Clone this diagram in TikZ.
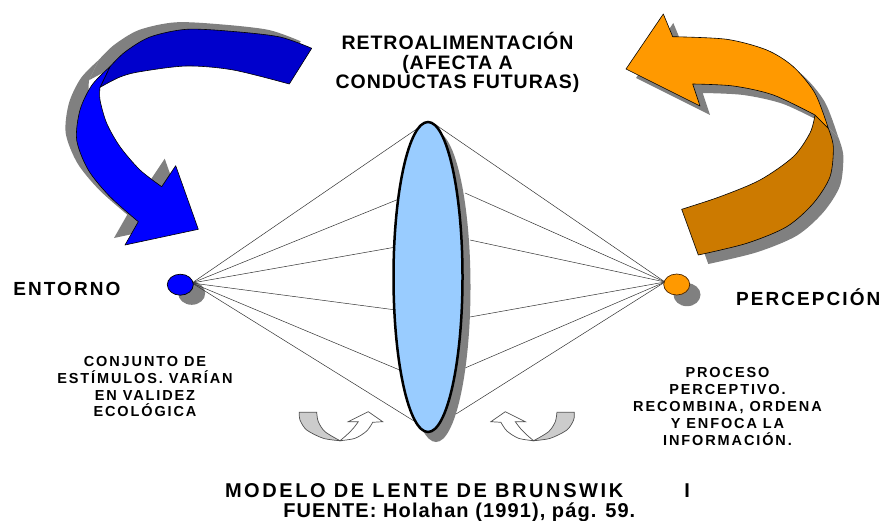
\documentclass[tikz,border=0pt]{standalone}
\usepackage{fontspec}
\setmainfont{Liberation Sans}
\newfontfamily\ftitle[LetterSpace=5]{Liberation Sans}
\newfontfamily\fhead[LetterSpace=11]{Liberation Sans}
\newfontfamily\fsmall[LetterSpace=13]{Liberation Sans}
\newfontfamily\fcapa[LetterSpace=13]{Liberation Sans}
\newfontfamily\fcapb[LetterSpace=5.5]{Liberation Sans}
\usetikzlibrary{shapes.geometric}
\definecolor{bluedark}{HTML}{0000CC}
\definecolor{bluebright}{HTML}{0000FF}
\definecolor{orangebright}{HTML}{FF9900}
\definecolor{orangedark}{HTML}{CC7A00}
\definecolor{lensblue}{HTML}{99CCFF}
\definecolor{shadowgray}{HTML}{808080}
\definecolor{smallgrey}{HTML}{CCCCCC}
\definecolor{smallline}{HTML}{505050}
\definecolor{raycol}{HTML}{333333}
\newcommand\blueA[1]{\path[#1] plot[smooth] coordinates {(311.7,48.3) (280,37) (233.3,31.5) (186.7,29.3) (150,37) (125,52) (110,66.7)} -- plot[smooth] coordinates {(100,87.3) (120,77) (140,71.7) (186.7,66) (233.3,70) (289.3,84)} -- cycle;}
\newcommand\blueB[1]{\path[#1] plot[smooth] coordinates {(110,66.7) (92,85) (80,110) (76.7,140) (88.3,170) (110,196.7) (138.3,221.7)} -- (125,245) -- (198.3,229.3) -- (175.7,165.7) -- plot[smooth] coordinates {(161.7,186.7) (140,170) (120,146.7) (106.7,123.3) (100,100) (100,87.3)} -- cycle;}
\newcommand\orangeA[1]{\path[#1] (626,69) -- (663.3,14) -- plot[smooth] coordinates {(672.7,36.7) (726.7,39.3) (766.7,50) (793.3,66.7) (815,93.3) (828.3,128.3)} -- plot[smooth] coordinates {(815,115) (773.3,95) (733.3,86) (692.7,84)} -- (700,106) -- cycle;}
\newcommand\orangeB[1]{\path[#1] plot[smooth] coordinates {(828.3,128.3) (833.3,146.7) (830,176.7) (813.3,203.3) (786.7,226.7) (746.7,243.3) (698.3,255)} -- plot[smooth] coordinates {(681.7,209.3) (720,196.7) (760,180) (793.3,156.7) (810,133) (815,115)} -- cycle;}
\newcommand\smallarrow{%
\path[fill=smallgrey, draw=smallline, line width=0.7pt] plot[smooth] coordinates {(299.3,412.3) (300,420) (306.7,430) (323.3,438.3) (340,440.7)} -- plot[smooth] coordinates {(340,440.7) (325,431.7) (318.3,421.7) (316.7,412.3)} -- cycle;
\path[fill=white, draw=smallline, line width=0.7pt] plot[smooth] coordinates {(340,440.7) (355,438.3) (366.7,431) (372.7,422.3)} -- (382.7,421.7) -- (368.3,411.7) -- (348.3,421.7) -- plot[smooth] coordinates {(358.3,421.7) (353.3,428.3) (346.7,435) (340,440.7)} -- cycle;}
\begin{document}
\begin{tikzpicture}[x=1pt,y=-1pt,
  lbl/.style={inner sep=0pt, outer sep=0pt, text depth=0pt},
  titlef/.style={font=\ftitle\bfseries\fontsize{19.5}{20}\selectfont, text height=14pt},
  headf/.style={font=\fhead\bfseries\fontsize{19}{20}\selectfont, text height=13.5pt},
  smallf/.style={font=\fsmall\bfseries\fontsize{14.5}{16}\selectfont, text height=10.5pt},
  capa/.style={font=\fcapa\bfseries\fontsize{20}{22}\selectfont, text height=14.5pt},
  capb/.style={font=\fcapb\bfseries\fontsize{20}{22}\selectfont, text height=14.5pt},
  ray/.style={draw=raycol, line width=0.5pt},
  outl/.style={draw=black, line width=0.6pt, line join=round},
  dot/.style={ellipse, inner sep=0pt, minimum width=26pt, minimum height=21pt},
  dotshadow/.style={ellipse, inner sep=0pt, minimum width=27pt, minimum height=23pt, fill=shadowgray}]
\useasboundingbox (0,0) rectangle (885,521);
\fill[white] (0,0) rectangle (885,521);
% feedback arrows
\begin{scope}[shift={(-11,-7)}]
  \blueA{fill=shadowgray} \blueB{fill=shadowgray}
\end{scope}
\blueA{fill=bluedark, outl}
\blueB{fill=bluebright, outl}
\begin{scope}[shift={(10,9)}]
  \orangeA{fill=shadowgray} \orangeB{fill=shadowgray}
\end{scope}
\orangeB{fill=orangedark, outl}
\orangeA{fill=orangebright, outl}
% dot shadows
\node[dotshadow] (es) at (191.7,293.3) {};
\node[dotshadow] (ps) at (687,294.7) {};
% rays
\coordinate (L) at (192,283);
\coordinate (R) at (665,282);
\coordinate (l1) at (424,124);
\coordinate (l2) at (399,199);
\coordinate (l3) at (396,247);
\coordinate (l4) at (396,310);
\coordinate (l5) at (402,371);
\coordinate (l6) at (414,421);
\coordinate (r1) at (436,125);
\coordinate (r2) at (465,193);
\coordinate (r3) at (470,240);
\coordinate (r4) at (470,317);
\coordinate (r5) at (465,368);
\coordinate (r6) at (456,414);
\foreach \i in {1,...,6} {\draw[ray] (L) -- (l\i); \draw[ray] (R) -- (r\i);}
% lens
\node[ellipse, inner sep=0pt, minimum width=69pt, minimum height=310pt, fill=shadowgray] (lensshadow) at (436,287) {};
\node[ellipse, inner sep=0pt, minimum width=69pt, minimum height=310pt, fill=lensblue, draw=black, line width=2.5pt] (lens) at (428,277) {};
% dots
\node[dot, fill=bluebright, draw=black, line width=0.7pt] (entorno) at (180.3,284.7) {};
\node[dot, fill=orangebright, draw=black!70!orange, line width=0.7pt] (percep) at (676.7,284.5) {};
% small arrows
\smallarrow
\begin{scope}[xshift=873.6pt, xscale=-1]
\smallarrow
\end{scope}
% texts
\node[lbl, titlef, anchor=base] (t1) at (457.5,49.3) {RETROALIMENTACIÓN};
\node[lbl, titlef, anchor=base] (t2) at (457.5,69.3) {(AFECTA A};
\node[lbl, titlef, anchor=base] (t3) at (457.5,88.3) {CONDUCTAS FUTURAS)};
\node[lbl, headf, anchor=base west] (h1) at (13.3,295) {ENTORNO};
\node[lbl, headf, anchor=base west] (h2) at (736,305) {PERCEPCIÓN};
\node[lbl, smallf, anchor=base] (a1) at (145,366.7) {CONJUNTO DE};
\node[lbl, smallf, anchor=base] (a2) at (145,383.3) {ESTÍMULOS. VARÍAN};
\node[lbl, smallf, anchor=base] (a3) at (145,400) {EN VALIDEZ};
\node[lbl, smallf, anchor=base] (a4) at (145,416.7) {ECOLÓGICA};
\node[lbl, smallf, anchor=base] (b1) at (727.5,377.3) {PROCESO};
\node[lbl, smallf, anchor=base] (b2) at (727.5,394.4) {PERCEPTIVO.};
\node[lbl, smallf, anchor=base] (b3) at (727.5,411.5) {RECOMBINA, ORDENA};
\node[lbl, smallf, anchor=base] (b4) at (727.5,428.6) {Y ENFOCA LA};
\node[lbl, smallf, anchor=base] (b5) at (727.5,445.7) {INFORMACIÓN.};
\node[lbl, capa, anchor=base west] (c1) at (225,497.5) {MODELO DE LENTE DE BRUNSWIK\hspace{61pt}I};
\node[lbl, capb, anchor=base west] (c2) at (283.3,517) {FUENTE: Holahan (1991), pág. 59.};
\end{tikzpicture}
\end{document}
